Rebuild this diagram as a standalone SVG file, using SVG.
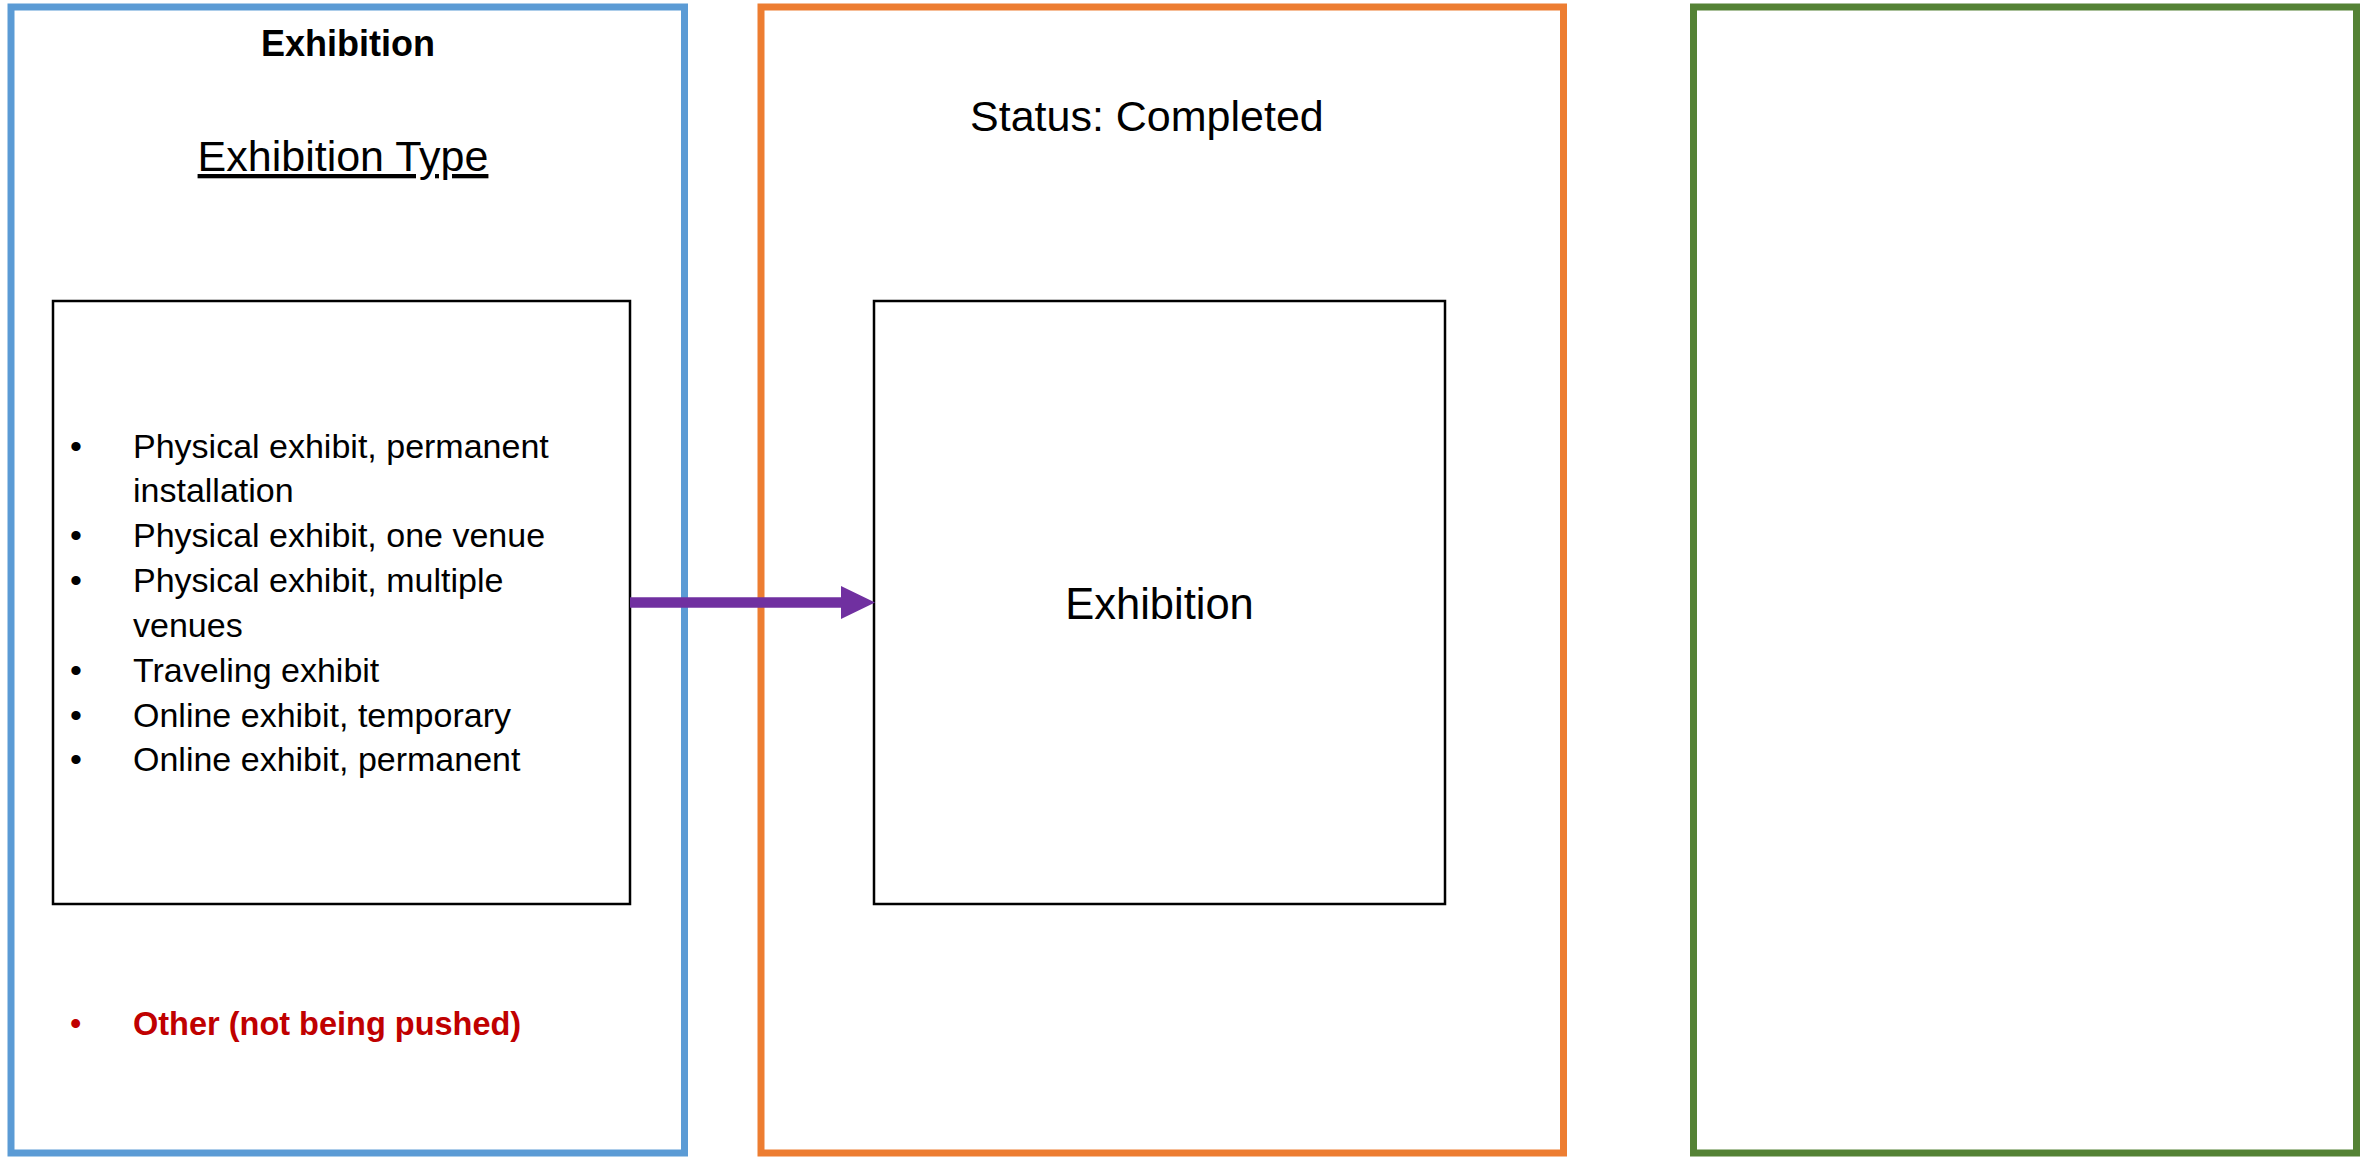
<svg xmlns="http://www.w3.org/2000/svg" width="2377" height="1157" viewBox="0 0 2377 1157">
<style>
  .lane { fill: #FFFFFF; stroke-width: 7; }
  .box { fill: #FFFFFF; stroke: #000000; stroke-width: 2.5; }
  .t { font-family: "Liberation Sans", Arial, sans-serif; fill: #000000; }
  .item { font-family: "Liberation Sans", Arial, sans-serif; font-size: 34px; fill: #000000; }
  .red { font-family: "Liberation Sans", Arial, sans-serif; font-size: 32.5px; fill: #C00000; }
</style>
<defs>
  <marker id="arrowhead" markerUnits="userSpaceOnUse" markerWidth="34" markerHeight="33" refX="0" refY="16.5" orient="auto">
    <path d="M0,0 L34,16.5 L0,33 Z" fill="#7030A0"/>
  </marker>
</defs>
<rect x="0" y="0" width="2377" height="1157" fill="#FFFFFF"/>

<g id="lane-exhibition">
  <rect class="lane" x="11" y="7" width="673.5" height="1146" stroke="#5B9BD5"/>
  <text class="t" x="348" y="56" font-size="36" font-weight="bold" text-anchor="middle">Exhibition</text>
  <text class="t" x="343" y="171" font-size="43" text-anchor="middle" text-decoration="underline">Exhibition Type</text>
</g>

<g id="lane-status">
  <rect class="lane" x="761" y="7" width="802.5" height="1146" stroke="#ED7D31"/>
  <text class="t" x="970" y="131" font-size="43">Status: Completed</text>
</g>

<g id="lane-empty">
  <rect class="lane" x="1693.5" y="7" width="663" height="1146" stroke="#548235"/>
</g>

<g id="node-exhibition-type">
  <rect class="box" x="53" y="301" width="577" height="603"/>
  <g class="item">
    <text x="70" y="458">•</text><text x="133" y="458">Physical exhibit, permanent</text>
    <text x="133" y="502">installation</text>
    <text x="70" y="547">•</text><text x="133" y="547">Physical exhibit, one venue</text>
    <text x="70" y="592">•</text><text x="133" y="592">Physical exhibit, multiple</text>
    <text x="133" y="637">venues</text>
    <text x="70" y="682">•</text><text x="133" y="682">Traveling exhibit</text>
    <text x="70" y="727">•</text><text x="133" y="727">Online exhibit, temporary</text>
    <text x="70" y="771">•</text><text x="133" y="771">Online exhibit, permanent</text>
  </g>
</g>

<g id="node-other">
  <text class="red" x="70" y="1035">•</text>
  <text class="red" x="133" y="1035" font-weight="bold">Other (not being pushed)</text>
</g>

<g id="node-exhibition">
  <rect class="box" x="874" y="301" width="571" height="603"/>
  <text class="t" x="1159.5" y="619" font-size="43.5" text-anchor="middle">Exhibition</text>
</g>

<g id="connectors">
  <line x1="630" y1="602.5" x2="841" y2="602.5" stroke="#7030A0" stroke-width="10.5" marker-end="url(#arrowhead)"/>
</g>
</svg>
